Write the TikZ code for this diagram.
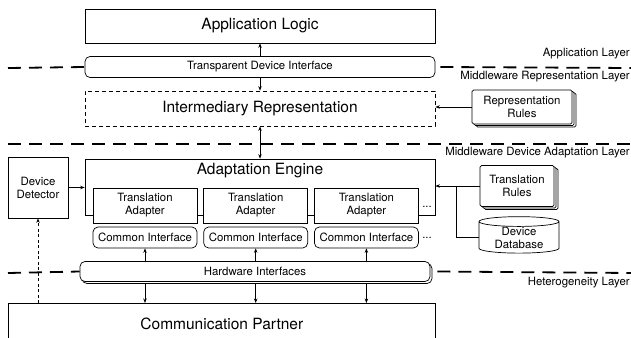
\documentclass[tikz,border=0pt]{standalone}
\usepackage{fontspec}
\setmainfont{TeX Gyre Heros}
\usetikzlibrary{positioning,shapes.geometric,shadows,arrows.meta}

\begin{document}
\begin{tikzpicture}[
		x=1pt, y=-1pt,
		>={Stealth[length=4.5pt,width=3.5pt]},
		line width=0.7pt,
		big/.style = {font=\fontsize{15.5}{18}\selectfont},
		small/.style = {font=\fontsize{11.4}{13}\selectfont},
		block/.style = {draw, fill=white, big},
		part/.style = {draw, fill=white, minimum width=104pt, inner sep=0pt, small, align=center},
		iface/.style = {part, rounded corners=5pt, minimum height=21pt},
		rules/.style = {draw, fill=white, rounded corners=1.5pt, inner sep=0pt, small, align=center,
			double copy shadow={shadow xshift=2pt, shadow yshift=-1.5pt}},
		layer/.style = {line width=1.8pt, dash pattern=on 13pt off 8pt},
		tag/.style = {small, anchor=east, inner sep=0pt}
	]
	\useasboundingbox (0,0) rectangle (631,337);
	\clip (0,0) rectangle (631,337);
	% Application and middleware blocks
	\node[block, minimum width=350pt, minimum height=34pt] (app) at (260,26) {Application Logic};
	\node[iface, minimum width=350pt] (tdi) at (260,67) {Transparent Device Interface};
	\node[block, dash pattern=on 4pt off 3pt, minimum width=350pt, minimum height=35pt] (irep) at (260,108.5) {Intermediary Representation};
	\node[rules, minimum width=100pt, minimum height=34pt] (reprules) at (522,107) {Representation\\Rules};
	\node[block, minimum width=350pt, minimum height=56pt] (engine) at (260,187) {};
	\node[big, below=1pt of engine.north] (enginetitle) {Adaptation Engine};
	\node[block, small, align=center, minimum width=60pt, minimum height=61pt] (detector) at (38,187.5) {Device\\Detector};
	% Adapters and their interfaces
	\node[part, minimum height=35pt] (ta1) at (145,205.5) {Translation\\Adapter};
	\node[part, minimum height=35pt, right=6pt of ta1] (ta2) {Translation\\Adapter};
	\node[part, minimum height=35pt, right=6pt of ta2] (ta3) {Translation\\Adapter};
	\node[small, inner sep=0pt] (tadots) at (427,207) {...};
	\node[iface] (ci1) at (145,237.5) {Common Interface};
	\node[iface, right=6pt of ci1] (ci2) {Common Interface};
	\node[iface, right=6pt of ci2] (ci3) {Common Interface};
	\node[small, inner sep=0pt] (cidots) at (427,238) {...};
	\node[iface, minimum width=350pt, minimum height=20pt, copy shadow={shadow xshift=2pt, shadow yshift=-2pt}] (hw) at (255,271.5) {Hardware Interfaces};
	\node[block, minimum width=427pt, minimum height=40pt, anchor=north west] (partner) at (8,303) {Communication Partner};
	% Rule sources on the right
	\node[rules, minimum width=74pt, minimum height=41pt] (transrules) at (517,186) {Translation\\Rules};
	\node[draw, fill=white, cylinder, shape border rotate=90, aspect=0.2, minimum width=80pt, minimum height=35pt,
		inner sep=0pt, small, align=center] (db) at (519,237.5) {Device\\Database};
	% Layer boundaries
	\draw[layer] (8,68) -- (tdi.west);
	\draw[layer] ([xshift=5pt]tdi.east) -- (631,68);
	\draw[layer] (8,144) -- (631,144);
	\draw[layer] (8,273) -- (hw.west);
	\draw[layer] ([xshift=7pt]hw.east) -- (631,273);
	\node[tag] (applayer) at (630,54) {Application Layer};
	\node[tag] (reprlayer) at (630,77) {Middleware Representation Layer};
	\node[tag] (adaptlayer) at (630,153) {Middleware Device Adaptation Layer};
	\node[tag] (hetlayer) at (630,283) {Heterogeneity Layer};
	% Connectors
	\draw[->] (tdi) -- (app);
	\draw[->] (tdi) -- (irep);
	\draw[<->] (irep) -- (engine);
	\draw[->] (reprules) -- (reprules -| irep.east);
	\draw[->] (detector) -- (detector -| engine.west);
	\draw[->] (transrules) -- (transrules -| engine.east);
	\draw (db.west) -| ([xshift=-23pt]transrules.west);
	\foreach \i in {1,2,3} {
		\draw[->] (hw.north -| ci\i) -- (ci\i);
		\draw[->] ([yshift=-2pt]hw.south -| ci\i) -- (partner.north -| ci\i);
	}
	\draw[->, dash pattern=on 3pt off 2.5pt] (partner.north -| detector) -- (detector);
\end{tikzpicture}
\end{document}
